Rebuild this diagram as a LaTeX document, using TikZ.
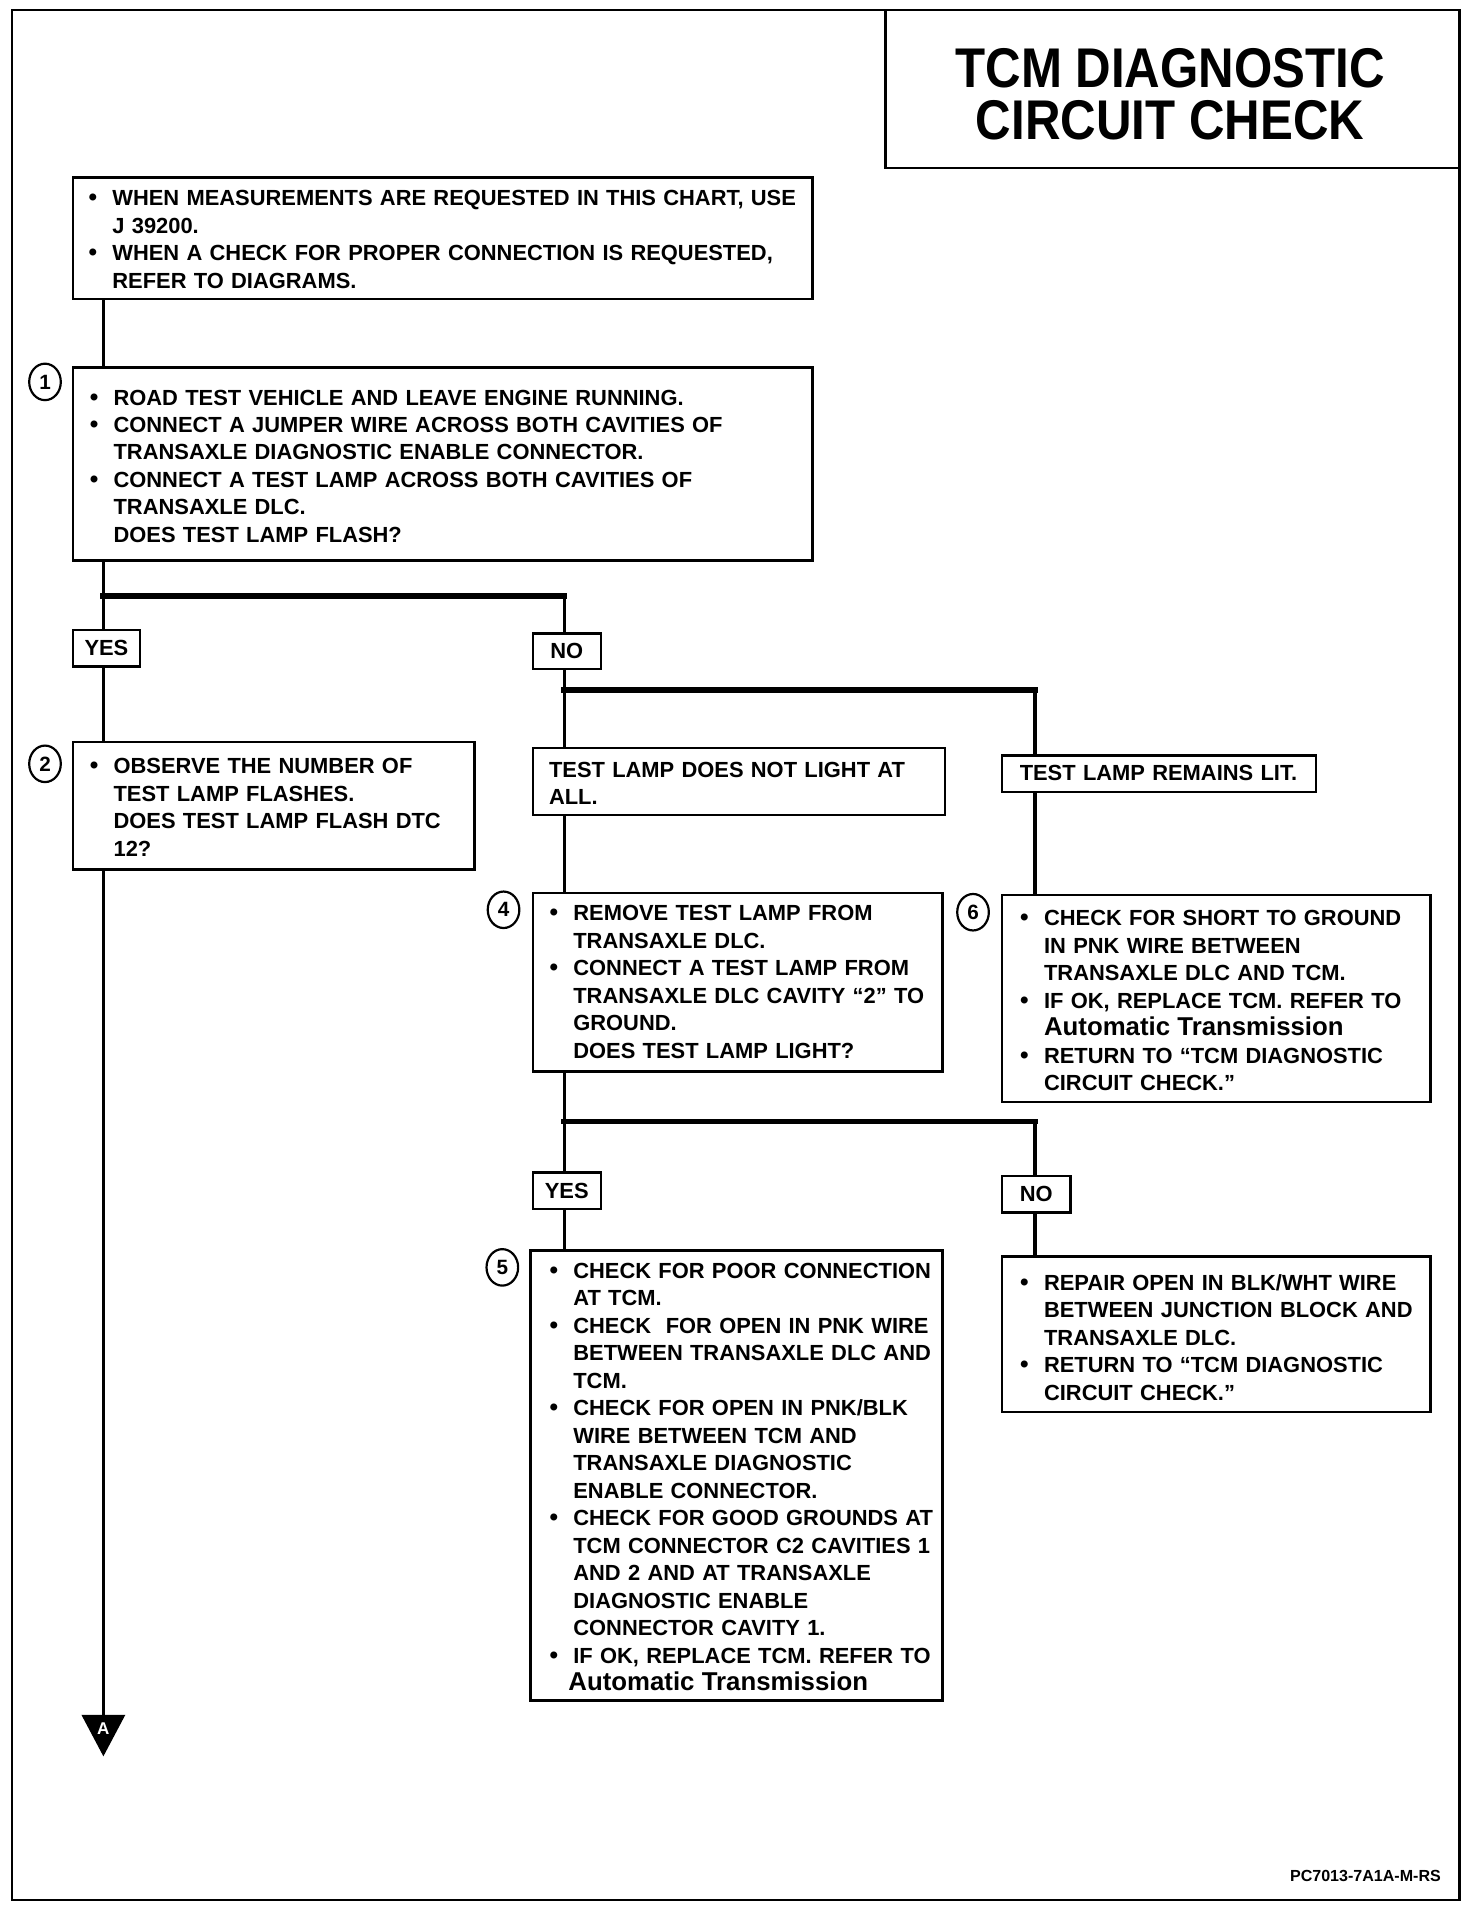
\documentclass[tikz,border=0pt]{standalone}
\usepackage{fontspec}
\usepackage{graphicx}
\setmainfont{Liberation Sans}
\usetikzlibrary{fit,shapes.geometric}
\newcommand{\bulit}{\leavevmode\llap{{\fontsize{10}{10}\selectfont\textbullet}\hspace{6.3pt}}}
\newcommand{\autotr}{{\fontsize{10.6}{11.3}\selectfont Automatic Transmission}}
\begin{document}
\begin{tikzpicture}[x=0.5pt,y=-0.5pt,
  box/.style={draw, line width=1pt, inner sep=0pt},
  txt/.style={anchor=base west, inner sep=0pt, text width=200pt, align=left, font=\bfseries\fontsize{9}{11.3}\selectfont},
  lab/.style={font=\bfseries\fontsize{9}{11}\selectfont, inner sep=0pt},
  conn/.style={line width=1.4pt},
  branch/.style={line width=2.4pt, line cap=rect},
  numc/.style={ellipse, draw, line width=0.9pt, minimum width=13pt, minimum height=15pt, inner sep=0pt, font=\bfseries\fontsize{8.5}{9}\selectfont},
  ttl/.style={anchor=base, inner sep=0pt, font=\bfseries\fontsize{23}{23}\selectfont}]
\useasboundingbox (0,0) rectangle (1210,1572);
% frame and title
\node[box, fit={(10,8) (1200,1562)}] (frame) {};
\node[box, fit={(728,8) (1200,138)}] (title) {};
\node[ttl] (t1) at (962,72) {\scalebox{0.88}[1]{TCM DIAGNOSTIC}};
\node[ttl] (t2) at (962,115) {\scalebox{0.88}[1]{CIRCUIT CHECK}};
% column coordinates
\coordinate (xL) at (85,0);
\coordinate (xM) at (464,0);
\coordinate (xR) at (851,0);
% boxes
\node[box, fit={(60,146) (668,246)}] (bA) {};
\node[box, fit={(60,302) (668,461)}] (b1) {};
\node[box, fit={(60,518) (115,548)}] (yes1) {};
\node[box, fit={(438,521) (494,550)}] (no1) {};
\node[box, fit={(60,610) (390,715)}] (b2) {};
\node[box, fit={(438,615) (777,670)}] (dnl) {};
\node[box, fit={(824,621) (1082,651)}] (rl) {};
\node[box, fit={(438,734) (775,881)}] (b4) {};
\node[box, fit={(824,736) (1176,906)}] (b6) {};
\node[box, fit={(438,964) (494,994)}] (yes2) {};
\node[box, fit={(824,967) (880,997)}] (no2) {};
\node[box, fit={(436,1028) (775,1398)}] (b5) {};
\node[box, fit={(824,1033) (1176,1161)}] (b7) {};
% labels
\node[lab] (ly1) at (yes1) {YES};
\node[lab] (ln1) at (no1) {NO};
\node[lab] (ly2) at (yes2) {YES};
\node[lab] (ln2) at (no2) {NO};
% numbers
\node[numc] (c1) at (37,314) {1};
\node[numc] (c2) at (37,628) {2};
\node[numc] (c4) at (414,748) {4};
\node[numc] (c6) at (800,750) {6};
\node[numc] (c5) at (413,1042) {5};
% texts
\node[txt, text width=300pt] (tA) at (92,169) {\bulit WHEN MEASUREMENTS ARE REQUESTED IN THIS CHART, USE\\J 39200.\\\bulit WHEN A CHECK FOR PROPER CONNECTION IS REQUESTED,\\REFER TO DIAGRAMS.};
\node[txt, text width=300pt] (t1b) at (93,333) {\bulit ROAD TEST VEHICLE AND LEAVE ENGINE RUNNING.\\\bulit CONNECT A JUMPER WIRE ACROSS BOTH CAVITIES OF\\TRANSAXLE DIAGNOSTIC ENABLE CONNECTOR.\\\bulit CONNECT A TEST LAMP ACROSS BOTH CAVITIES OF\\TRANSAXLE DLC.\\DOES TEST LAMP FLASH?};
\node[txt] (t2b) at (93,636) {\bulit OBSERVE THE NUMBER OF\\TEST LAMP FLASHES.\\DOES TEST LAMP FLASH DTC\\12?};
\node[txt] (tdnl) at (451,639) {TEST LAMP DOES NOT LIGHT AT\\ALL.};
\node[txt] (trl) at (838,642) {TEST LAMP REMAINS LIT.};
\node[txt] (t4b) at (471,757) {\bulit REMOVE TEST LAMP FROM\\TRANSAXLE DLC.\\\bulit CONNECT A TEST LAMP FROM\\TRANSAXLE DLC CAVITY “2” TO\\GROUND.\\DOES TEST LAMP LIGHT?};
\node[txt] (t6b) at (858,761) {\bulit CHECK FOR SHORT TO GROUND\\IN PNK WIRE BETWEEN\\TRANSAXLE DLC AND TCM.\\\bulit IF OK, REPLACE TCM. REFER TO\\\autotr\\\bulit RETURN TO “TCM DIAGNOSTIC\\CIRCUIT CHECK.”};
\node[txt] (t5b) at (471,1051) {\bulit CHECK FOR POOR CONNECTION\\AT TCM.\\\bulit CHECK~ FOR OPEN IN PNK WIRE\\BETWEEN TRANSAXLE DLC AND\\TCM.\\\bulit CHECK FOR OPEN IN PNK/BLK\\WIRE BETWEEN TCM AND\\TRANSAXLE DIAGNOSTIC\\ENABLE CONNECTOR.\\\bulit CHECK FOR GOOD GROUNDS AT\\TCM CONNECTOR C2 CAVITIES 1\\AND 2 AND AT TRANSAXLE\\DIAGNOSTIC ENABLE\\CONNECTOR CAVITY 1.\\\bulit IF OK, REPLACE TCM. REFER TO\\\hspace*{-2pt}\autotr};
\node[txt] (t7b) at (858,1061) {\bulit REPAIR OPEN IN BLK/WHT WIRE\\BETWEEN JUNCTION BLOCK AND\\TRANSAXLE DLC.\\\bulit RETURN TO “TCM DIAGNOSTIC\\CIRCUIT CHECK.”};
\node[anchor=base east, inner sep=0pt, font=\bfseries\fontsize{6.6}{7}\selectfont] (foot) at (1185,1547) {PC7013-7A1A-M-RS};
% arrow A
\coordinate (arrA) at (85,1410);
\fill (arrA) ++(-18,0) -- ++(36,0) -- (85,1444) -- cycle;
\node[inner sep=0pt, text=white, font=\bfseries\fontsize{7}{7}\selectfont] (Alab) at (85,1421) {A};
% junctions
\coordinate (j1) at (85,490);
\coordinate (j2) at (464,567);
\coordinate (j3) at (464,922);
% connectors
\draw[conn] (bA.south -| xL) -- (b1.north -| xL);
\draw[conn] (b1.south -| xL) -- (yes1.north -| xL);
\draw[conn] (yes1.south -| xL) -- (b2.north -| xL);
\draw[conn] (b2.south -| xL) -- (arrA);
\draw[branch] (j1) -- (j1 -| xM);
\draw[conn] (j1 -| xM) -- (no1.north -| xM);
\draw[conn] (no1.south -| xM) -- (dnl.north -| xM);
\draw[branch] (j2) -- (j2 -| xR);
\draw[conn] (j2 -| xR) -- (rl.north -| xR);
\draw[conn] (dnl.south -| xM) -- (b4.north -| xM);
\draw[conn] (rl.south -| xR) -- (b6.north -| xR);
\draw[conn] (b4.south -| xM) -- (yes2.north -| xM);
\draw[branch] (j3) -- (j3 -| xR);
\draw[conn] (j3 -| xR) -- (no2.north -| xR);
\draw[conn] (yes2.south -| xM) -- (b5.north -| xM);
\draw[conn] (no2.south -| xR) -- (b7.north -| xR);
\end{tikzpicture}
\end{document}
